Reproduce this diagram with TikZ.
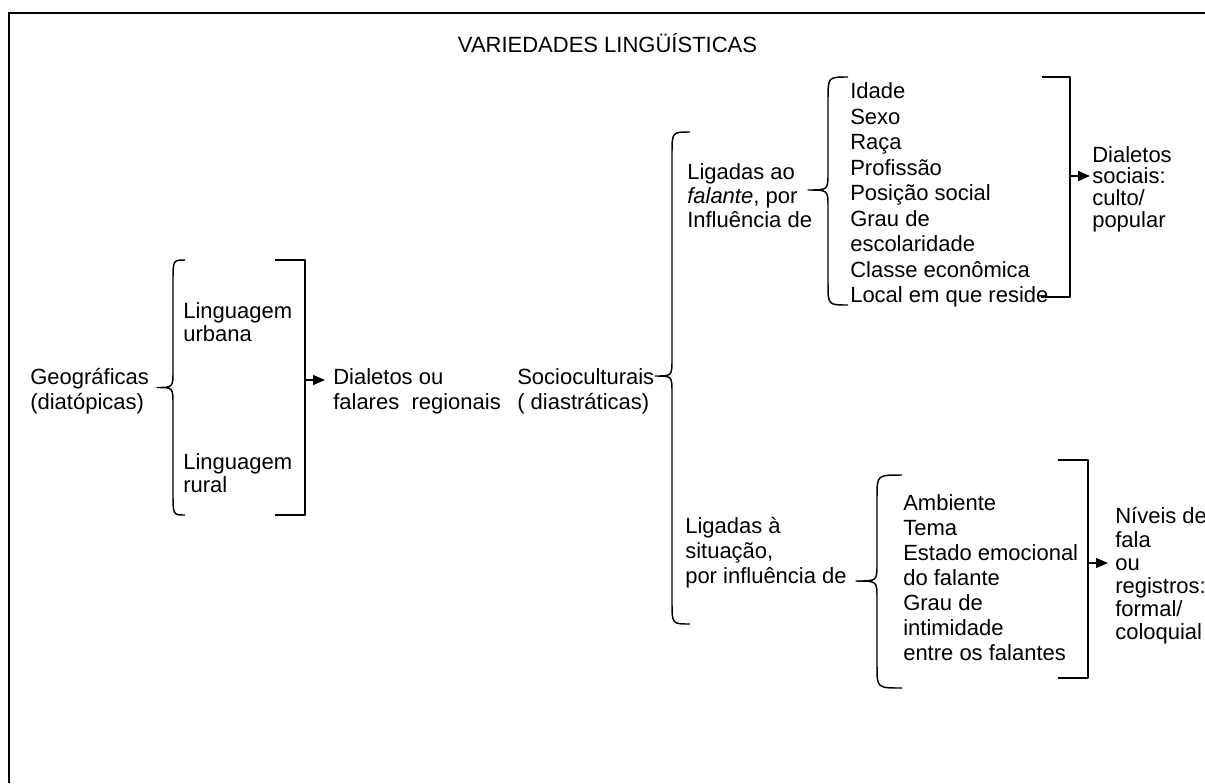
\documentclass[tikz,border=0pt]{standalone}
\usepackage{fontspec}
\setmainfont{Liberation Sans}
\usetikzlibrary{arrows.meta}
\newcommand{\curlyL}[6]{% #1 end x, #2 stem x, #3 tip x, #4 top y, #5 tip y, #6 bottom y
  \draw[brc] (#1,#4) .. controls (#2,#4) .. (#2,{#4+22}) -- (#2,{#5-17})
    .. controls (#2,#5) .. (#3,#5) .. controls (#2,#5) .. (#2,{#5+17})
    -- (#2,{#6-22}) .. controls (#2,#6) .. (#1,#6);}
\begin{document}
\begin{tikzpicture}[x=0.75pt,y=-0.75pt,
  txt/.style={anchor=west,inner sep=0pt,align=left},
  fs/.style={font=\fontsize{16.5}{#1}\selectfont},
  brc/.style={line width=1.1pt,line join=round},
  conn/.style={line width=1.1pt,-{Triangle[length=9pt,width=7.5pt]}},
  frame/.style={line width=1.5pt}]
\useasboundingbox (0,0) rectangle (1205,783);
\draw[frame] (9,783) -- (9,13) -- (1205,13);

\node[txt,fs=19,anchor=base] (title) at (607.5,52) {VARIEDADES LINGÜÍSTICAS};

\node[txt,fs=18.75pt] (geo) at (30,391) {Geográficas\\(diatópicas)};
\node[txt,fs=17.25pt] (urb) at (183,322.5) {Linguagem\\urbana};
\node[txt,fs=17.25pt] (rur) at (183,473.5) {Linguagem\\rural};
\node[txt,fs=18.75pt] (dial) at (333,391) {Dialetos ou\\falares\ \ regionais};
\node[txt,fs=18.75pt] (soc) at (517,391) {Socioculturais\\( diastráticas)};
\node[txt,fs=18pt] (fal) at (687,196) {Ligadas ao\\\textit{falante}, por\\Influência de};
\node[txt,fs=18.75pt] (sit) at (685,553) {Ligadas à\\situação,\\por influência de};
\node[txt,fs=19.1pt] (lista) at (850,195) {Idade\\Sexo\\Raça\\Profissão\\Posição social\\Grau de\\escolaridade\\Classe econômica\\Local em que reside};
\node[txt,fs=16.3pt] (dsoc) at (1092,189) {Dialetos\\sociais:\\culto/\\popular};
\node[txt,fs=18.75pt] (listb) at (903,578) {Ambiente\\Tema\\Estado emocional\\do falante\\Grau de\\intimidade\\entre os falantes};
\node[txt,fs=17.4pt] (niv) at (1115,576) {Níveis de\\fala\\ou\\registros:\\formal/\\coloquial};

% braces
\curlyL{185}{173}{157}{260}{387.5}{515}
\curlyL{690}{672}{655}{132}{376}{624}
\curlyL{848}{828}{808}{77}{190}{305}
\curlyL{902}{877}{856}{475}{581}{688}

% brackets
\draw[brc] (275,260) -- (305,260) -- (305,515) -- (275,515);
\draw[brc] (1042,77) -- (1070,77) -- (1070,297) -- (1041,297);
\draw[brc] (1058,460) -- (1088,460) -- (1088,678) -- (1058,678);

% connectors
\coordinate (a1s) at (305,380); \coordinate (a1e) at (325,380);
\coordinate (a2s) at (1070,176); \coordinate (a2e) at (1090,176);
\coordinate (a3s) at (1088,563); \coordinate (a3e) at (1108,563);
\draw[conn] (a1s) -- (a1e);
\draw[conn] (a2s) -- (a2e);
\draw[conn] (a3s) -- (a3e);
\end{tikzpicture}
\end{document}
